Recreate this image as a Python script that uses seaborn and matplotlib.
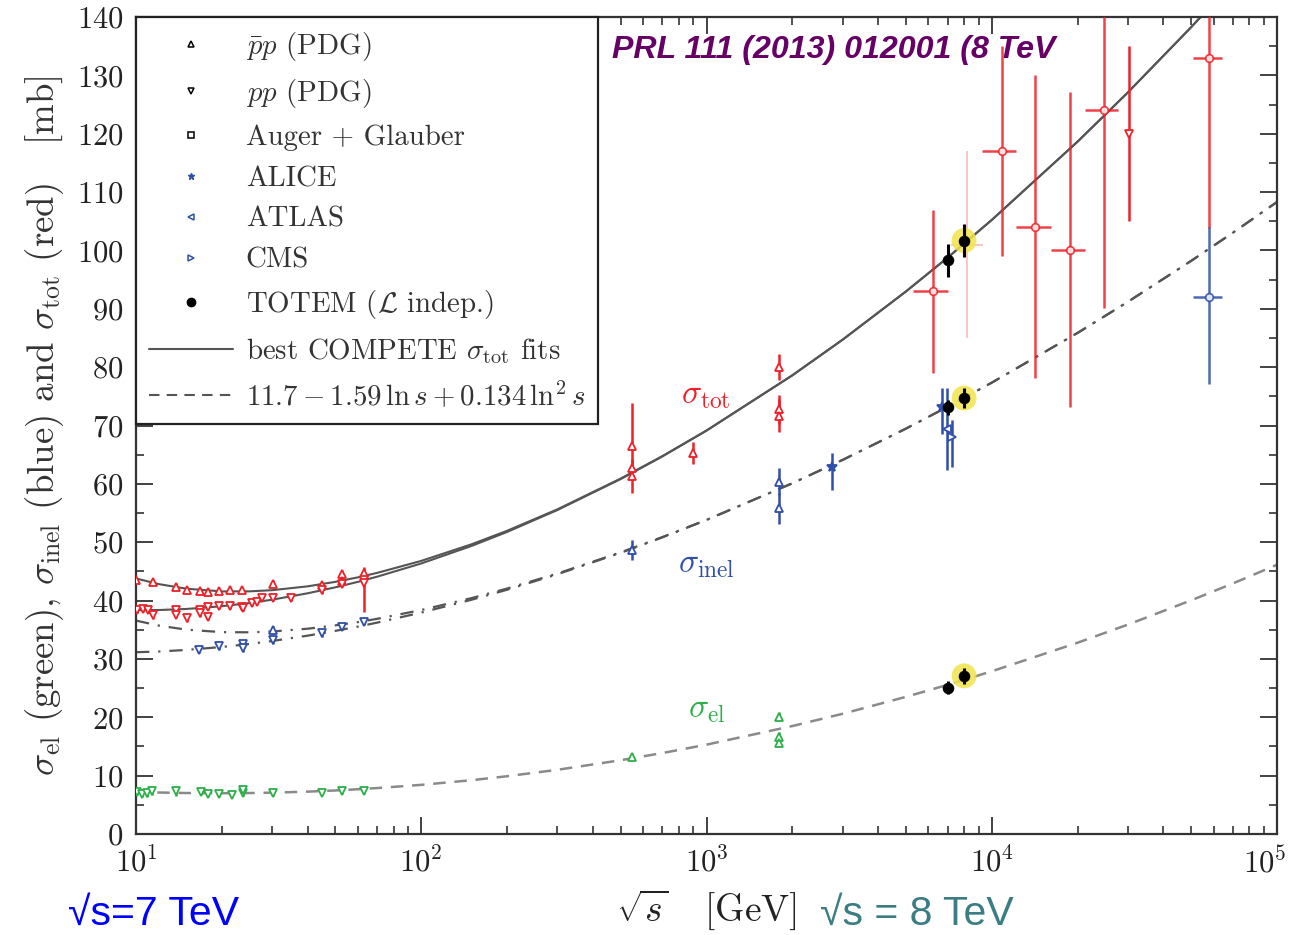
import numpy as np
import matplotlib
matplotlib.use("Agg")
import matplotlib.pyplot as plt
import matplotlib.transforms as mtransforms
import seaborn as sns
from matplotlib.lines import Line2D
from matplotlib.ticker import LogLocator, MultipleLocator, NullFormatter

# ---------------- fit curves ----------------
fit_sqrts = [10, 12, 15, 20, 25, 30, 40, 50, 60, 70, 100, 150, 200, 300, 500, 700,
             1000, 2000, 3000, 5000, 7000, 1e4, 2e4, 3e4, 5e4, 7e4, 1e5]
tot_pbarp = [43.79, 42.83, 42.04, 41.57, 41.58, 41.78, 42.44, 43.21, 43.98, 44.74, 46.80,
             49.64, 51.96, 55.63, 60.90, 64.75, 69.13, 78.60, 84.70, 92.96, 98.76, 105.22,
             118.65, 127.07, 138.25, 145.96, 154.44]
tot_pp = [38.37, 38.38, 38.56, 39.03, 39.58, 40.15, 41.25, 42.27, 43.21, 44.09, 46.36,
          49.36, 51.76, 55.51, 60.82, 64.69, 69.13, 78.60, 84.70, 92.96, 98.76, 105.22,
          118.65, 127.07, 138.25, 145.96, 154.44]
el_fit = [7.22, 7.11, 7.02, 6.98, 7.02, 7.08, 7.26, 7.46, 7.67, 7.87, 8.42, 9.22, 9.90,
          11.00, 12.64, 13.87, 15.31, 18.50, 20.60, 23.50, 25.56, 27.88, 32.78, 35.88,
          40.04, 42.93, 46.14]
inel_pbarp = [36.57, 35.72, 35.02, 34.59, 34.56, 34.70, 35.18, 35.75, 36.31, 36.87, 38.38,
              40.42, 42.06, 44.63, 48.26, 50.88, 53.82, 60.10, 64.10, 69.46, 73.20, 77.34,
              85.87, 91.19, 98.21, 103.03, 108.30]
inel_pp = [31.15, 31.27, 31.54, 32.05, 32.56, 33.07, 33.99, 34.81, 35.54, 36.22, 37.94,
           40.14, 41.86, 44.51, 48.18, 50.82, 53.82, 60.10, 64.10, 69.46, 73.20, 77.34,
           85.87, 91.19, 98.21, 103.03, 108.30]

# ---------------- sigma_tot data ----------------
tot_pbarp_x = [10.0, 11.5, 13.8, 15.1, 16.7, 17.9, 19.5, 21.3, 23.5, 30.3, 44.9, 52.7, 52.7, 62.8,
               546, 546, 546, 900, 1800, 1800, 1800]
tot_pbarp_y = [43.5, 43.1, 42.4, 41.8, 41.7, 41.5, 41.7, 41.8, 41.8, 42.9, 42.6, 44.6, 43.3, 44.7,
               66.5, 62.7, 61.3, 65.3, 80.0, 72.8, 71.7]
tot_pbarp_elo = [0.5, 0.5, 0.6, 0.5, 0.5, 0.6, 0.5, 0.5, 0.5, 0.6, 0.6, 0.7, 0.6, 1.0,
                 2.5, 1.5, 2.8, 1.9, 2.2, 2.5, 2.8]
tot_pbarp_ehi = [0.5, 0.5, 0.6, 0.5, 0.5, 0.6, 0.5, 0.5, 0.5, 0.6, 0.6, 0.7, 0.6, 1.0,
                 7.3, 1.5, 2.8, 1.9, 2.2, 2.5, 2.8]

tot_pp_x = [10.1, 10.6, 11.0, 11.5, 13.8, 13.8, 15.1, 16.7, 16.7, 17.9, 17.9, 19.5, 21.3, 23.5,
            23.8, 25.5, 26.5, 27.6, 30.3, 34.9, 44.9, 52.7, 62.8, 62.8, 30300]
tot_pp_y = [38.4, 38.6, 38.4, 37.5, 38.4, 37.6, 37.0, 38.4, 37.8, 38.9, 37.2, 39.0, 39.0, 38.9,
            38.7, 39.6, 39.8, 40.5, 40.4, 40.5, 41.8, 42.9, 43.6, 43.0, 120.0]
tot_pp_elo = [0.5, 0.5, 0.5, 0.6, 0.7, 0.6, 0.6, 0.5, 0.6, 0.6, 0.6, 0.5, 0.5, 0.5,
              0.5, 0.5, 0.5, 0.5, 0.5, 0.5, 0.6, 0.6, 0.8, 4.9, 15.0]
tot_pp_ehi = [0.5, 0.5, 0.5, 0.6, 0.7, 0.6, 0.6, 0.5, 0.6, 0.6, 0.6, 0.5, 0.5, 0.5,
              0.5, 0.5, 0.5, 0.5, 0.5, 0.5, 0.6, 0.6, 0.8, 2.3, 15.0]

# cosmic-ray sigma_tot points (with sqrt(s) ranges)
cr_tot_x = [6210, 10820, 14160, 18800, 24700, 57700]
cr_tot_xlo = [5300, 9270, 12130, 16190, 21200, 50900]
cr_tot_xhi = [7000, 12130, 16190, 21200, 27700, 64300]
cr_tot_y = [93.0, 117.0, 104.1, 100.1, 124.1, 132.9]
cr_tot_err = [14.0, 18.0, 26.0, 27.0, 34.0, 29.0]
faint_x, faint_xlo, faint_xhi, faint_y, faint_err = [8200], [7200], [9300], [101.0], [16.0]

# TOTEM
totem_x = [7000, 7000, 7000]
totem_y = [98.3, 73.1, 25.1]
totem_err = [2.8, 1.3, 1.1]
totem8_x = [8000, 8000, 8000]
totem8_y = [101.7, 74.7, 27.1]
totem8_err = [2.9, 1.7, 1.4]

# ---------------- sigma_inel data ----------------
inel_pp_x = [16.6, 19.5, 23.7, 23.7, 30.3, 44.9, 52.7, 62.8]
inel_pp_y = [31.5, 32.2, 32.6, 31.8, 33.3, 34.4, 35.5, 36.4]
inel_pp_err = [0.5, 0.6, 0.6, 0.6, 0.7, 0.6, 0.6, 0.6]
inel_pbarp_x = [30.3, 546, 1800, 1800]
inel_pbarp_y = [35.0, 48.7, 60.4, 55.8]
inel_pbarp_err = [0.7, 1.7, 2.3, 2.7]
alice_x = [2760, 6700]
alice_y = [62.9, 73.2]
alice_elo = [4.0, 4.6]
alice_ehi = [2.4, 3.2]
atlas_x, atlas_y, atlas_err = [6950], [69.4], [7.0]
cms_x, cms_y, cms_elo, cms_ehi = [7250], [68.0], [5.1], [2.9]
cr_inel_x, cr_inel_xlo, cr_inel_xhi = [57700], [50900], [64300]
cr_inel_y, cr_inel_elo, cr_inel_ehi = [92.1], [15.0], [12.0]

# ---------------- sigma_el data ----------------
el_pp_x = [10.06, 10.5, 10.9, 11.35, 13.8, 16.9, 17.9, 19.5, 21.7, 23.7, 23.7, 30.3, 44.9, 52.7, 62.8]
el_pp_y = [7.2, 6.9, 7.0, 7.3, 7.3, 7.2, 6.9, 6.9, 6.7, 7.0, 7.6, 7.0, 7.0, 7.4, 7.3]
el_pp_err = [0.6, 0.6, 0.7, 0.6, 0.8, 0.5, 0.5, 0.5, 0.4, 0.5, 0.6, 0.5, 0.4, 0.5, 0.4]
el_pbarp_x = [546, 1800, 1800, 1800]
el_pbarp_y = [13.2, 20.1, 16.7, 15.6]
el_pbarp_err = [0.6, 0.8, 0.8, 0.6]

# ---------------- style ----------------
sns.set_theme(style="ticks")
plt.rcParams['font.family'] = 'serif'
plt.rcParams['font.serif'] = ['cmr10']
plt.rcParams['mathtext.fontset'] = 'cm'
plt.rcParams['axes.unicode_minus'] = False
plt.rcParams['axes.formatter.use_mathtext'] = True

RED = '#EE2028'
BLUE = '#2F4FA8'
GREEN = '#2DB04A'
GRAY = '#555555'
LGRAY = '#8A8A8A'

fig = plt.figure(figsize=(12.96, 9.35), dpi=100)
ax = fig.add_axes([136/1296, 101/935, 1141/1296, 817/935])

# fit curves
sns.lineplot(x=fit_sqrts, y=tot_pbarp, ax=ax, color=GRAY, lw=1.5, sort=False, estimator=None, zorder=2)
sns.lineplot(x=fit_sqrts, y=tot_pp, ax=ax, color=GRAY, lw=1.5, sort=False, estimator=None, zorder=2)
sns.lineplot(x=fit_sqrts, y=inel_pbarp, ax=ax, color=GRAY, lw=1.6, sort=False, estimator=None,
             linestyle=(0, (6, 4, 1, 4)), zorder=2)
sns.lineplot(x=fit_sqrts, y=inel_pp, ax=ax, color=GRAY, lw=1.6, sort=False, estimator=None,
             linestyle=(0, (6, 4, 1, 4)), zorder=2)
sns.lineplot(x=fit_sqrts, y=el_fit, ax=ax, color=LGRAY, lw=1.8, sort=False, estimator=None,
             linestyle=(0, (5, 3.5)), zorder=2)


def draw(x, y, elo, ehi, color, marker, mfc='white', ms=6, xlo=None, xhi=None,
         alpha=1.0, lw=1.8, zorder=3, mew=1.3):
    xerr = None
    if xlo is not None:
        xerr = [np.array(x) - np.array(xlo), np.array(xhi) - np.array(x)]
    ax.errorbar(x, y, yerr=[elo, ehi], xerr=xerr, fmt=marker, color=color, mfc=mfc, mec=color,
                ms=ms, mew=mew, elinewidth=lw, capsize=0, alpha=alpha, zorder=zorder)


# sigma_tot
draw(tot_pbarp_x, tot_pbarp_y, tot_pbarp_elo, tot_pbarp_ehi, RED, '^')
draw(tot_pp_x, tot_pp_y, tot_pp_elo, tot_pp_ehi, RED, 'v')
draw(cr_tot_x, cr_tot_y, cr_tot_err, cr_tot_err, RED, 'o', xlo=cr_tot_xlo, xhi=cr_tot_xhi,
     alpha=0.85, ms=5.5)
draw(faint_x, faint_y, faint_err, faint_err, RED, 'none', xlo=faint_xlo, xhi=faint_xhi,
     alpha=0.3, lw=1.2)
# sigma_inel
draw(inel_pp_x, inel_pp_y, inel_pp_err, inel_pp_err, BLUE, 'v')
draw(inel_pbarp_x, inel_pbarp_y, inel_pbarp_err, inel_pbarp_err, BLUE, '^')
draw(alice_x, alice_y, alice_elo, alice_ehi, BLUE, '*', mfc=BLUE, ms=7)
draw(atlas_x, atlas_y, atlas_err, atlas_err, BLUE, '<')
draw(cms_x, cms_y, cms_elo, cms_ehi, BLUE, '>')
draw(cr_inel_x, cr_inel_y, cr_inel_elo, cr_inel_ehi, BLUE, 'o', xlo=cr_inel_xlo, xhi=cr_inel_xhi,
     alpha=0.85, ms=5.5)
# sigma_el
draw(el_pp_x, el_pp_y, el_pp_err, el_pp_err, GREEN, 'v')
draw(el_pbarp_x, el_pbarp_y, el_pbarp_err, el_pbarp_err, GREEN, '^')

# TOTEM
ax.scatter(totem8_x, totem8_y, s=320, color='#F0E44A', alpha=0.85, edgecolors='none', zorder=4)
draw(totem_x, totem_y, totem_err, totem_err, 'black', 'o', mfc='black', ms=7, lw=2.2, zorder=5)
draw(totem8_x, totem8_y, totem8_err, totem8_err, 'black', 'o', mfc='black', ms=7, lw=2.2, zorder=5)

# curve labels
ax.text(990, 75.0, r'$\sigma_{\rm tot}$', color=RED, fontsize=24, ha='center', va='center')
ax.text(1000, 46.0, r'$\sigma_{\rm inel}$', color=BLUE, fontsize=24, ha='center', va='center')
ax.text(1000, 21.2, r'$\sigma_{\rm el}$', color=GREEN, fontsize=24, ha='center', va='center')

# axes
ax.set_xscale('log')
ax.set_xlim(10, 1e5)
ax.set_ylim(0, 140)
ax.yaxis.set_major_locator(MultipleLocator(10))
ax.yaxis.set_minor_locator(MultipleLocator(5))
ax.xaxis.set_major_locator(LogLocator(base=10, numticks=10))
ax.xaxis.set_minor_locator(LogLocator(base=10, subs=np.arange(2, 10), numticks=20))
ax.xaxis.set_minor_formatter(NullFormatter())
ax.tick_params(which='both', direction='in', top=True, right=True, colors='#222222',
               labelcolor='#222222')
ax.tick_params(which='major', length=12, width=1.2, labelsize=22, pad=9)
ax.tick_params(which='minor', length=6, width=1.1)
for sp in ax.spines.values():
    sp.set_linewidth(1.6)
    sp.set_color('#333333')

ax.set_xlabel(r'$\sqrt{s}$   [GeV]', fontsize=27, labelpad=6, color='#222222')
ax.set_ylabel(r'$\sigma_{\rm el}$ (green), $\sigma_{\rm inel}$ (blue) and $\sigma_{\rm tot}$ (red)   [mb]',
              fontsize=26.5, labelpad=8, color='#333333')

# legend
handles = [
    Line2D([], [], ls='none', marker='^', ms=4, mfc='white', mec='black', mew=1.1),
    Line2D([], [], ls='none', marker='v', ms=4, mfc='white', mec='black', mew=1.1),
    Line2D([], [], ls='none', marker='s', ms=4, mfc='white', mec='black', mew=1.1),
    Line2D([], [], ls='none', marker='*', ms=5, mfc=BLUE, mec=BLUE),
    Line2D([], [], ls='none', marker='<', ms=4, mfc='white', mec=BLUE, mew=1.1),
    Line2D([], [], ls='none', marker='>', ms=4, mfc='white', mec=BLUE, mew=1.1),
    Line2D([], [], ls='none', marker='o', ms=6, mfc='black', mec='black'),
    Line2D([], [], color=GRAY, lw=1.5),
    Line2D([], [], color=GRAY, lw=1.5, ls=(0, (5, 3.5))),
]
labels = [r'$\bar{p}p$ (PDG)', r'$pp$ (PDG)', 'Auger + Glauber', 'ALICE', 'ATLAS', 'CMS',
          r'TOTEM ($\mathcal{L}$ indep.)', r'best COMPETE $\sigma_{\rm tot}$ fits',
          r'$11.7 - 1.59\,\ln s + 0.134\,\ln^2 s$']
leg = ax.legend(handles, labels, loc='upper left', bbox_to_anchor=(0, 1), borderaxespad=0,
                fontsize=20.8, handlelength=2.9, handletextpad=0.45, labelspacing=0.5,
                fancybox=False, framealpha=1, edgecolor='#222222', borderpad=0.45)
leg.get_frame().set_linewidth(1.6)
for t in leg.get_texts():
    t.set_color('#333333')
leg.set_zorder(6)

# overlay texts
ax.text(612/1296, (935-58)/935, 'PRL 111 (2013) 012001 (8 TeV', transform=fig.transFigure,
        family=['Liberation Sans', 'DejaVu Sans'], fontweight='bold', fontstyle='italic',
        fontsize=23.1, color='#660066', ha='left', va='baseline', zorder=1)
fig.text(68/1296, (935-925)/935, '√s=7 TeV', family=['Liberation Sans', 'DejaVu Sans'],
         fontsize=29.5, color='#0000FF', ha='left', va='baseline')
fig.text(820/1296, (935-925)/935, '√s = 8 TeV', family=['Liberation Sans', 'DejaVu Sans'],
         fontsize=29.5, color='#3B7D82', ha='left', va='baseline')

# keep the last x tick label (10^5) inside the figure
fig.canvas.draw()
for tick in ax.xaxis.get_major_ticks():
    if np.isclose(tick.get_loc(), 1e5):
        lab = tick.label1
        lab.set_transform(lab.get_transform() +
                          mtransforms.ScaledTranslation(-12/100, 0, fig.dpi_scale_trans))

fig.savefig('out.png', dpi=100)
